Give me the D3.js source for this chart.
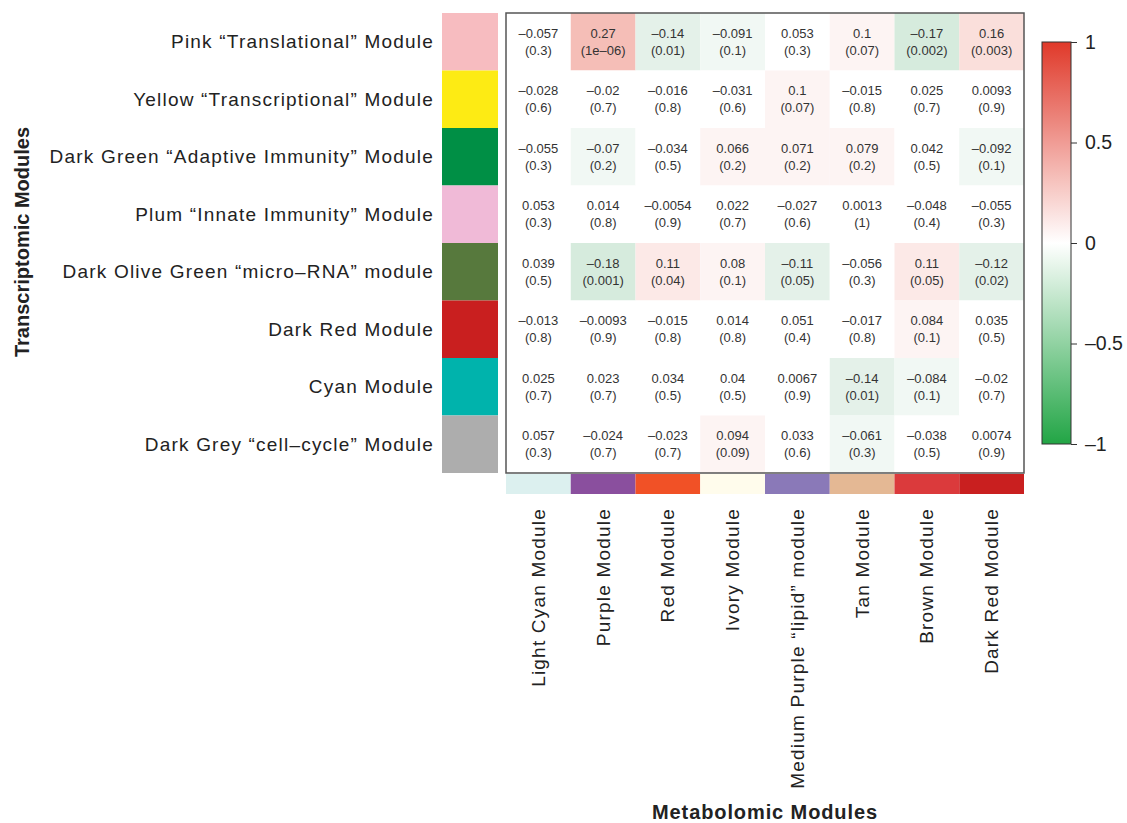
<!DOCTYPE html>
<html>
<head>
<meta charset="utf-8">
<script src="https://cdn.jsdelivr.net/npm/d3@7"></script>
<style>
  body { margin: 0; background: #fff; }
  text { font-family: "Liberation Sans", Arial, Helvetica, sans-serif; }
</style>
</head>
<body>
<svg id="chart" width="1127" height="823"></svg>
<script>
// transcriptomic modules (rows)
var rowLabels = [
  "Pink “Translational” Module",
  "Yellow “Transcriptional” Module",
  "Dark Green “Adaptive Immunity” Module",
  "Plum “Innate Immunity” Module",
  "Dark Olive Green “micro–RNA” module",
  "Dark Red Module",
  "Cyan Module",
  "Dark Grey “cell–cycle” Module"
];
var rowColors = ["#f7bcc0", "#fdeb14", "#008f45", "#f0bad7", "#57793d", "#c91f1f", "#00b3ac", "#adadad"];

// metabolomic modules (columns)
var colLabels = [
  "Light Cyan Module",
  "Purple Module",
  "Red Module",
  "Ivory Module",
  "Medium Purple “lipid” module",
  "Tan Module",
  "Brown Module",
  "Dark Red Module"
];
var colColors = ["#dcf0ef", "#8a4f9e", "#f15126", "#fffcec", "#8a79b8", "#e4b894", "#db3a3c", "#c91f1f"];

// correlation, one row per transcriptomic module
var corr = [
  [-0.057, 0.27, -0.14, -0.091, 0.053, 0.1, -0.17, 0.16],
  [-0.028, -0.02, -0.016, -0.031, 0.1, -0.015, 0.025, 0.0093],
  [-0.055, -0.07, -0.034, 0.066, 0.071, 0.079, 0.042, -0.092],
  [0.053, 0.014, -0.0054, 0.022, -0.027, 0.0013, -0.048, -0.055],
  [0.039, -0.18, 0.11, 0.08, -0.11, -0.056, 0.11, -0.12],
  [-0.013, -0.0093, -0.015, 0.014, 0.051, -0.017, 0.084, 0.035],
  [0.025, 0.023, 0.034, 0.04, 0.0067, -0.14, -0.084, -0.02],
  [0.057, -0.024, -0.023, 0.094, 0.033, -0.061, -0.038, 0.0074]
];
// p-values as printed
var pvals = [
  ["0.3", "1e–06", "0.01", "0.1", "0.3", "0.07", "0.002", "0.003"],
  ["0.6", "0.7", "0.8", "0.6", "0.07", "0.8", "0.7", "0.9"],
  ["0.3", "0.2", "0.5", "0.2", "0.2", "0.2", "0.5", "0.1"],
  ["0.3", "0.8", "0.9", "0.7", "0.6", "1", "0.4", "0.3"],
  ["0.5", "0.001", "0.04", "0.1", "0.05", "0.3", "0.05", "0.02"],
  ["0.8", "0.9", "0.8", "0.8", "0.4", "0.8", "0.1", "0.5"],
  ["0.7", "0.7", "0.5", "0.5", "0.9", "0.01", "0.1", "0.7"],
  ["0.3", "0.7", "0.7", "0.09", "0.6", "0.3", "0.5", "0.9"]
];
var legendTicks = [1, 0.5, 0, -0.5, -1];

var svg = d3.select("#chart");
var gridL = 506, gridR = 1024, gridT = 13, gridB = 473;

var x = d3.scaleBand().domain(d3.range(colLabels.length)).range([gridL, gridR]);
var y = d3.scaleBand().domain(d3.range(rowLabels.length)).range([gridT, gridB]);

// cell colours: values binned in steps of 0.04, then green-white-red
var bin = d3.scaleQuantize().domain([-1.02, 1.02])
  .range(d3.range(51).map(function(i) { return -1 + i * 0.04; }));
var cellFill = d3.scaleLinear()
  .domain([-1, -0.5, -0.04, 0.04, 0.5, 1])
  .range(["#22a345", "#61b17e", "#ffffff", "#ffffff", "#ec8375", "#e03a2a"])
  .clamp(true);
var barFill = d3.scaleLinear().domain([-1, 0, 1]).range(["#22a545", "#ffffff", "#e0392a"]);

function fmt(v) { return String(v).replace("-", "–"); }

var cells = [];
corr.forEach(function(row, i) {
  row.forEach(function(v, j) { cells.push({ r: i, c: j, v: v, p: pvals[i][j] }); });
});

var cell = svg.append("g").selectAll("g")
  .data(cells)
  .enter().append("g")
  .attr("transform", function(d) { return "translate(" + x(d.c) + "," + y(d.r) + ")"; });

cell.append("rect")
  .attr("width", x.bandwidth())
  .attr("height", y.bandwidth())
  .attr("fill", function(d) { return cellFill(bin(d.v)); });

cell.append("text")
  .attr("x", x.bandwidth() / 2)
  .attr("y", y.bandwidth() / 2 - 8.5)
  .attr("text-anchor", "middle")
  .attr("dominant-baseline", "central")
  .style("font-size", "13px")
  .attr("fill", "#333")
  .text(function(d) { return fmt(d.v); });

cell.append("text")
  .attr("x", x.bandwidth() / 2)
  .attr("y", y.bandwidth() / 2 + 8.5)
  .attr("text-anchor", "middle")
  .attr("dominant-baseline", "central")
  .style("font-size", "13px")
  .attr("fill", "#333")
  .text(function(d) { return "(" + d.p + ")"; });

// frame
svg.append("rect")
  .attr("x", gridL).attr("y", gridT)
  .attr("width", gridR - gridL).attr("height", gridB - gridT)
  .attr("fill", "none").attr("stroke", "#555").attr("stroke-width", 1.5);

// row colour bar and labels
svg.append("g").selectAll("rect")
  .data(rowColors)
  .enter().append("rect")
  .attr("x", 442).attr("y", function(d, i) { return y(i); })
  .attr("width", 56).attr("height", y.bandwidth())
  .attr("fill", function(d) { return d; });

svg.append("g").selectAll("text")
  .data(rowLabels)
  .enter().append("text")
  .attr("x", 434)
  .attr("y", function(d, i) { return y(i) + y.bandwidth() / 2; })
  .attr("text-anchor", "end")
  .attr("dominant-baseline", "central")
  .style("font-size", "19px")
  .style("letter-spacing", "1.2px")
  .attr("fill", "#222")
  .text(function(d) { return d; });

// column colour bar and labels
svg.append("g").selectAll("rect")
  .data(colColors)
  .enter().append("rect")
  .attr("x", function(d, i) { return x(i); }).attr("y", 474)
  .attr("width", x.bandwidth()).attr("height", 20)
  .attr("fill", function(d) { return d; });

svg.append("g").selectAll("text")
  .data(colLabels)
  .enter().append("text")
  .attr("transform", function(d, i) {
    return "translate(" + (x(i) + x.bandwidth() / 2) + ",508) rotate(-90)";
  })
  .attr("text-anchor", "end")
  .attr("dominant-baseline", "central")
  .style("font-size", "19px")
  .style("letter-spacing", "1.2px")
  .attr("fill", "#222")
  .text(function(d) { return d; });

// axis titles
svg.append("text")
  .attr("transform", "translate(22,242) rotate(-90)")
  .attr("text-anchor", "middle")
  .attr("dominant-baseline", "central")
  .style("font-size", "20px")
  .style("font-weight", "bold")
  .attr("fill", "#222")
  .text("Transcriptomic Modules");

svg.append("text")
  .attr("x", 765).attr("y", 812)
  .attr("text-anchor", "middle")
  .attr("dominant-baseline", "central")
  .style("font-size", "20px")
  .style("font-weight", "bold")
  .style("letter-spacing", "0.9px")
  .attr("fill", "#222")
  .text("Metabolomic Modules");

// colour legend
var ly = d3.scaleLinear().domain([1, -1]).range([42, 444]);
var grad = svg.append("defs").append("linearGradient")
  .attr("id", "legendGrad").attr("x1", 0).attr("y1", 0).attr("x2", 0).attr("y2", 1);
grad.selectAll("stop")
  .data(d3.range(0, 21))
  .enter().append("stop")
  .attr("offset", function(d) { return d / 20; })
  .attr("stop-color", function(d) { return barFill(1 - d / 10); });

svg.append("rect")
  .attr("x", 1042).attr("y", ly(1))
  .attr("width", 29).attr("height", ly(-1) - ly(1))
  .attr("fill", "url(#legendGrad)")
  .attr("stroke", "#333").attr("stroke-width", 1);

var lg = svg.append("g").attr("transform", "translate(1071,0)")
  .call(d3.axisRight(ly).tickValues(legendTicks).tickSize(6).tickPadding(8)
    .tickFormat(function(d) { return fmt(d); }));
lg.select(".domain").remove();
lg.selectAll("line").attr("stroke", "#333");
lg.selectAll("text").style("font-size", "19.5px").attr("fill", "#222")
  .style("font-family", "\"Liberation Sans\", Arial, sans-serif");
</script>
</body>
</html>
